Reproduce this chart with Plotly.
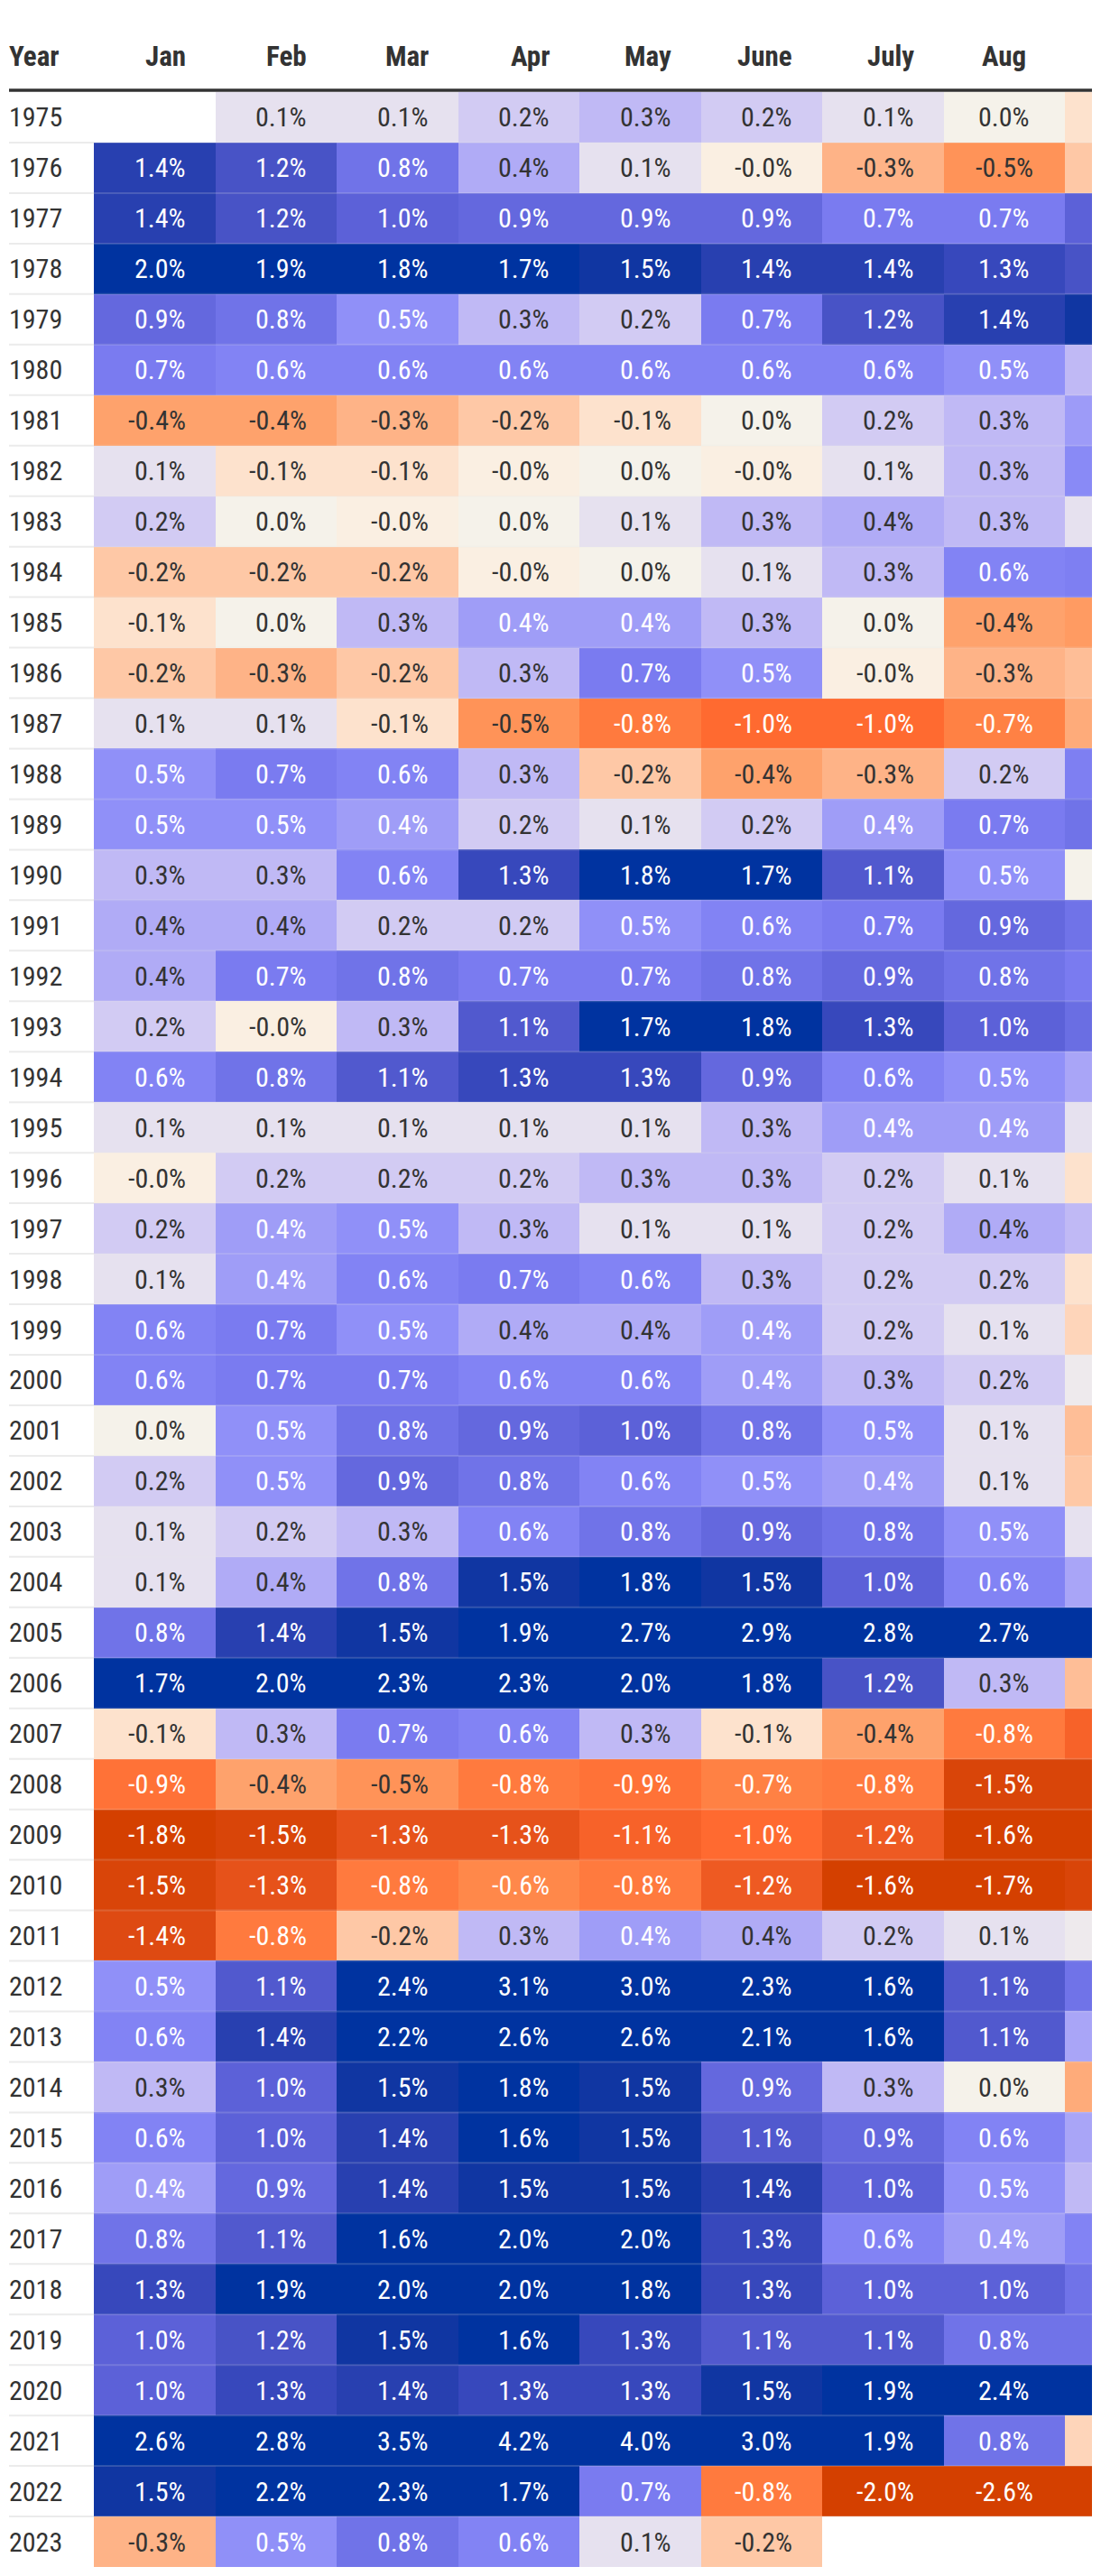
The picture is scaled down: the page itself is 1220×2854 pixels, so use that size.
import plotly.graph_objects as go

# ---------------- data ----------------
years = list(range(1975, 2024))
months = ["Jan", "Feb", "Mar", "Apr", "May", "June", "July", "Aug", "Sep"]

jan = [None, 1.4, 1.4, 2.0, 0.9, 0.7, -0.4, 0.1, 0.2, -0.2, -0.1, -0.2, 0.1, 0.5, 0.5, 0.3, 0.37, 0.37, 0.2, 0.6,
       0.1, -0.02, 0.2, 0.1, 0.6, 0.6, 0.0, 0.2, 0.1, 0.1, 0.8, 1.7, -0.1, -0.9, -1.8, -1.5, -1.4, 0.5, 0.6, 0.3,
       0.6, 0.44, 0.8, 1.3, 1.0, 1.0, 2.6, 1.5, -0.3]
feb = [0.1, 1.2, 1.2, 1.9, 0.8, 0.6, -0.4, -0.1, 0.0, -0.2, 0.0, -0.3, 0.1, 0.7, 0.5, 0.3, 0.37, 0.7, -0.02, 0.8,
       0.1, 0.2, 0.44, 0.44, 0.7, 0.7, 0.5, 0.5, 0.2, 0.37, 1.4, 2.0, 0.3, -0.4, -1.5, -1.3, -0.8, 1.1, 1.4, 1.0,
       1.0, 0.9, 1.1, 1.9, 1.2, 1.3, 2.8, 2.2, 0.5]
mar = [0.1, 0.8, 1.0, 1.8, 0.5, 0.6, -0.3, -0.1, -0.02, -0.2, 0.3, -0.2, -0.1, 0.6, 0.44, 0.6, 0.2, 0.8, 0.3, 1.1,
       0.1, 0.2, 0.5, 0.6, 0.5, 0.7, 0.8, 0.9, 0.3, 0.8, 1.5, 2.3, 0.7, -0.5, -1.3, -0.8, -0.2, 2.4, 2.2, 1.5,
       1.4, 1.4, 1.6, 2.0, 1.5, 1.4, 3.5, 2.3, 0.8]
apr = [0.2, 0.37, 0.9, 1.7, 0.3, 0.6, -0.2, -0.02, 0.0, -0.02, 0.44, 0.3, -0.5, 0.3, 0.2, 1.3, 0.2, 0.7, 1.1, 1.3,
       0.1, 0.2, 0.3, 0.7, 0.37, 0.6, 0.9, 0.8, 0.6, 1.5, 1.9, 2.3, 0.6, -0.8, -1.3, -0.6, 0.3, 3.1, 2.6, 1.8,
       1.6, 1.5, 2.0, 2.0, 1.6, 1.3, 4.2, 1.7, 0.6]
may = [0.3, 0.1, 0.9, 1.5, 0.2, 0.6, -0.1, 0.0, 0.1, 0.0, 0.44, 0.7, -0.8, -0.2, 0.1, 1.8, 0.5, 0.7, 1.7, 1.3,
       0.1, 0.3, 0.1, 0.6, 0.37, 0.6, 1.0, 0.6, 0.8, 1.8, 2.7, 2.0, 0.3, -0.9, -1.1, -0.8, 0.44, 3.0, 2.6, 1.5,
       1.5, 1.5, 2.0, 1.8, 1.3, 1.3, 4.0, 0.7, 0.1]
jun = [0.2, -0.02, 0.9, 1.4, 0.7, 0.6, 0.0, -0.02, 0.3, 0.1, 0.3, 0.5, -1.0, -0.4, 0.2, 1.7, 0.6, 0.8, 1.8, 0.9,
       0.3, 0.3, 0.1, 0.3, 0.44, 0.44, 0.8, 0.5, 0.9, 1.5, 2.9, 1.8, -0.1, -0.7, -1.0, -1.2, 0.37, 2.3, 2.1, 0.9,
       1.1, 1.4, 1.3, 1.3, 1.1, 1.5, 3.0, -0.8, -0.2]
jul = [0.1, -0.3, 0.7, 1.4, 1.2, 0.6, 0.2, 0.1, 0.37, 0.3, 0.0, -0.02, -1.0, -0.3, 0.44, 1.1, 0.7, 0.9, 1.3, 0.6,
       0.44, 0.2, 0.2, 0.2, 0.2, 0.3, 0.5, 0.44, 0.8, 1.0, 2.8, 1.2, -0.4, -0.8, -1.2, -1.6, 0.2, 1.6, 1.6, 0.3,
       0.9, 1.0, 0.6, 1.0, 1.1, 1.9, 1.9, -2.0, None]
aug = [0.0, -0.5, 0.7, 1.3, 1.4, 0.5, 0.3, 0.3, 0.3, 0.6, -0.4, -0.3, -0.7, 0.2, 0.7, 0.5, 0.9, 0.8, 1.0, 0.5,
       0.44, 0.1, 0.37, 0.2, 0.1, 0.2, 0.1, 0.1, 0.5, 0.6, 2.7, 0.3, -0.8, -1.5, -1.6, -1.7, 0.1, 1.1, 1.1, 0.0,
       0.6, 0.5, 0.44, 1.0, 0.8, 2.4, 0.8, -2.6, None]
# September is cut off at the right edge of the reference; values estimated from cell colour only
sep = [-0.1, -0.2, 1.0, 1.2, 1.5, 0.3, 0.45, 0.55, 0.1, 0.65, -0.45, -0.25, -0.35, 0.65, 0.8, 0.0, 0.8, 0.7, 0.85,
       0.4, 0.1, -0.1, 0.3, -0.1, -0.15, 0.05, -0.25, -0.2, 0.1, 0.4, 2.5, -0.25, -1.1, -1.5, -1.6, -1.5, 0.05,
       0.8, 0.4, -0.35, 0.4, 0.3, 0.6, 0.8, 0.8, 2.5, -0.15, -2.0, None]

columns = [jan, feb, mar, apr, may, jun, jul, aug, sep]

# ---------------- style ----------------
W, H = 1220, 2854
RIGHT_MARGIN = 10
LEFT_PAD = 10
FIRST_COL_X = 104.0
COL_W = 134.5
HEADER_BOTTOM = 102.0
ROW_H = 55.96
HEADER_Y = 62.0
TEXT_PAD = 33.0
DARK = "#333333"
FONT = "Liberation Sans Narrow, Arial Narrow, Roboto Condensed, DejaVu Sans Condensed, sans-serif"

zmin, zmax = -1.6, 1.6
stops = [
    (-1.6, "#d44000"), (-1.4, "#de4a12"), (-1.2, "#ee5a22"), (-1.0, "#ff6a30"),
    (-0.8, "#ff7a3e"), (-0.6, "#ff884a"), (-0.5, "#ff9358"), (-0.4, "#fea26c"),
    (-0.3, "#feb387"), (-0.2, "#fec8a6"), (-0.1, "#fde2cd"), (-0.02, "#faefe2"),
    (0.0, "#f5f2ea"), (0.1, "#e6e1ef"), (0.2, "#d2cbf3"), (0.3, "#c0b9f5"),
    (0.4, "#a9a5f7"), (0.5, "#9090f8"), (0.6, "#8283f4"), (0.7, "#7a7bf0"),
    (0.8, "#7073e8"), (0.9, "#6468de"), (1.0, "#5c61d8"), (1.1, "#5159ce"),
    (1.2, "#4853c6"), (1.3, "#3748bc"), (1.4, "#2840b0"), (1.5, "#1036a2"),
    (1.6, "#0033a0"),
]
colorscale = [[(v - zmin) / (zmax - zmin), c] for v, c in stops]


def hex2rgb(h):
    h = h.lstrip("#")
    return tuple(int(h[i:i + 2], 16) for i in (0, 2, 4))


def color_at(v):
    v = max(zmin, min(zmax, v))
    for (v0, c0), (v1, c1) in zip(stops[:-1], stops[1:]):
        if v0 <= v <= v1:
            t = 0 if v1 == v0 else (v - v0) / (v1 - v0)
            a, b = hex2rgb(c0), hex2rgb(c1)
            return tuple(a[i] + (b[i] - a[i]) * t for i in range(3))
    return hex2rgb(stops[-1][1])


def luminance(rgb):
    def ch(c):
        c = c / 255
        return c / 12.92 if c <= 0.03928 else ((c + 0.055) / 1.055) ** 2.4
    r, g, b = (ch(c) for c in rgb)
    return 0.2126 * r + 0.7152 * g + 0.0722 * b


# axis ranges so that the cells land on the table grid
plot_w = W - RIGHT_MARGIN
x0 = -0.5 - FIRST_COL_X / COL_W
x1 = x0 + plot_w / COL_W
first_year = years[0]
y_top = first_year - 0.5 - HEADER_BOTTOM / ROW_H
y_bot = first_year - 0.5 + (H - HEADER_BOTTOM) / ROW_H

z = [[columns[c][r] for c in range(len(months))] for r in range(len(years))]

fig = go.Figure(go.Heatmap(
    z=z, x=months, y=years, colorscale=colorscale, zmin=zmin, zmax=zmax,
    showscale=False, hoverinfo="skip", xgap=0, ygap=0,
))

annotations = []
# header
annotations.append(dict(x=LEFT_PAD / plot_w, xref="paper", y=1 - HEADER_Y / H, yref="paper",
                        text="<b>Year</b>", showarrow=False, xanchor="left", yanchor="middle",
                        borderpad=0, borderwidth=0,
                        font=dict(family=FONT, size=31, color=DARK)))
shift_right = COL_W / 2 - TEXT_PAD
for ci, m in enumerate(months[:8]):
    centered = (m == "Aug")
    annotations.append(dict(x=m, xref="x", y=1 - HEADER_Y / H, yref="paper",
                            text=f"<b>{m}</b>", showarrow=False,
                            xanchor="center" if centered else "right",
                            xshift=0 if centered else shift_right, yanchor="middle",
                            borderpad=0, borderwidth=0,
                            font=dict(family=FONT, size=31, color=DARK)))

# year labels and values
for ri, yr in enumerate(years):
    annotations.append(dict(x=LEFT_PAD / plot_w, xref="paper", y=yr, yref="y", text=str(yr),
                            showarrow=False, xanchor="left", yanchor="middle",
                            borderpad=0, borderwidth=0,
                            font=dict(family=FONT, size=30, color=DARK)))
    for ci, m in enumerate(months[:8]):
        v = columns[ci][ri]
        if v is None:
            continue
        txt = f"{v:.1f}%"
        col = "#ffffff" if luminance(color_at(v)) < 0.40 else DARK
        centered = (m == "Aug")
        annotations.append(dict(x=m, xref="x", y=yr, yref="y", text=txt, showarrow=False,
                                xanchor="center" if centered else "right",
                                xshift=0 if centered else shift_right, yanchor="middle",
                                borderpad=0, borderwidth=0,
                                font=dict(family=FONT, size=30, color=col)))

shapes = []
# thick header rule
shapes.append(dict(type="line", xref="paper", yref="paper", x0=LEFT_PAD / plot_w, x1=1,
                   y0=1 - (HEADER_BOTTOM - 2) / H, y1=1 - (HEADER_BOTTOM - 2) / H,
                   line=dict(color="#333333", width=3.5)))
# thin row separators
for yr in years[1:]:
    shapes.append(dict(type="line", xref="paper", yref="y", x0=LEFT_PAD / plot_w,
                       x1=FIRST_COL_X / plot_w, y0=yr - 0.5, y1=yr - 0.5,
                       line=dict(color="#ebebeb", width=2)))
    shapes.append(dict(type="line", xref="paper", yref="y", x0=FIRST_COL_X / plot_w,
                       x1=1, y0=yr - 0.5, y1=yr - 0.5,
                       line=dict(color="rgba(235,235,235,0.18)", width=2)))

fig.update_layout(
    width=W, height=H,
    margin=dict(l=0, r=RIGHT_MARGIN, t=0, b=0, pad=0),
    paper_bgcolor="white", plot_bgcolor="white",
    xaxis=dict(type="category", range=[x0, x1], showgrid=False, zeroline=False,
               showticklabels=False, ticks="", fixedrange=True),
    yaxis=dict(type="linear", range=[y_bot, y_top], showgrid=False, zeroline=False,
               showticklabels=False, ticks="", fixedrange=True),
    annotations=annotations, shapes=shapes, showlegend=False,
)

fig.write_html("out.html", config={"displayModeBar": False, "staticPlot": True},
               post_script="document.body.style.margin='0';")
